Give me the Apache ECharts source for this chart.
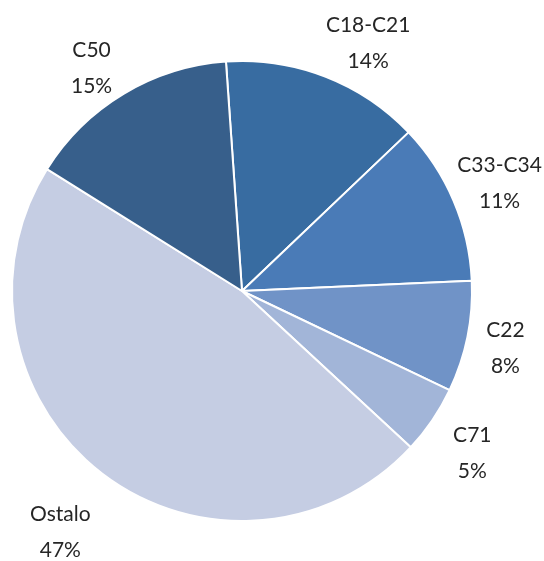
<!DOCTYPE html>
<html>
<head>
<meta charset="utf-8">
<script src="https://cdn.jsdelivr.net/npm/echarts@6/dist/echarts.min.js"></script>
<style>
  html, body { margin: 0; padding: 0; background: #fff; }
  #chart { width: 544px; height: 561px; }
</style>
</head>
<body>
<div id="chart"></div>
<script>
// podaci
const categories = ['C18-C21', 'C33-C34', 'C22', 'C71', 'Ostalo', 'C50'];
const values = [14.0, 11.4, 7.8, 4.8, 47.0, 15.0];
const colors = ['#386ca1', '#4a7bb7', '#7093c7', '#a2b5d8', '#c5cde3', '#375f8b'];

// geometrija
const cx = 242, cy = 291, r = 230;
const startAngle = 94;
// pomak sredine natpisa od ruba isječka (sredina luka)
const labelOffset = [[43, -33], [46, -18], [38, 11], [40, 33], [-42, 59], [-32, -26]];

const total = values.reduce((a, b) => a + b, 0);

let chart = echarts.init(document.getElementById('chart'));

let option = {
  animation: false,
  series: [{
    type: 'pie',
    center: [cx, cy],
    radius: [0, r],
    startAngle: startAngle,
    clockwise: true,
    avoidLabelOverlap: false,
    data: categories.map((name, i) => ({
      name: name,
      value: values[i],
      itemStyle: { color: colors[i] }
    })),
    itemStyle: {
      borderColor: '#fff',
      borderWidth: 2
    },
    label: {
      show: true,
      position: 'outside',
      color: '#262626',
      fontFamily: 'Lato',
      fontSize: 21,
      lineHeight: 36,
      align: 'center',
      formatter: function (p) {
        return p.name + '\n' + Math.round(p.percent) + '%';
      }
    },
    labelLine: { show: false },
    labelLayout: function (p) {
      const i = p.dataIndex;
      let before = 0;
      for (let j = 0; j < i; j++) before += values[j];
      const mid = (startAngle - (before + values[i] / 2) / total * 360) * Math.PI / 180;
      return {
        x: cx + r * Math.cos(mid) + labelOffset[i][0],
        y: cy - r * Math.sin(mid) + labelOffset[i][1],
        align: 'center',
        verticalAlign: 'middle'
      };
    }
  }]
};

chart.setOption(option);
</script>
</body>
</html>
